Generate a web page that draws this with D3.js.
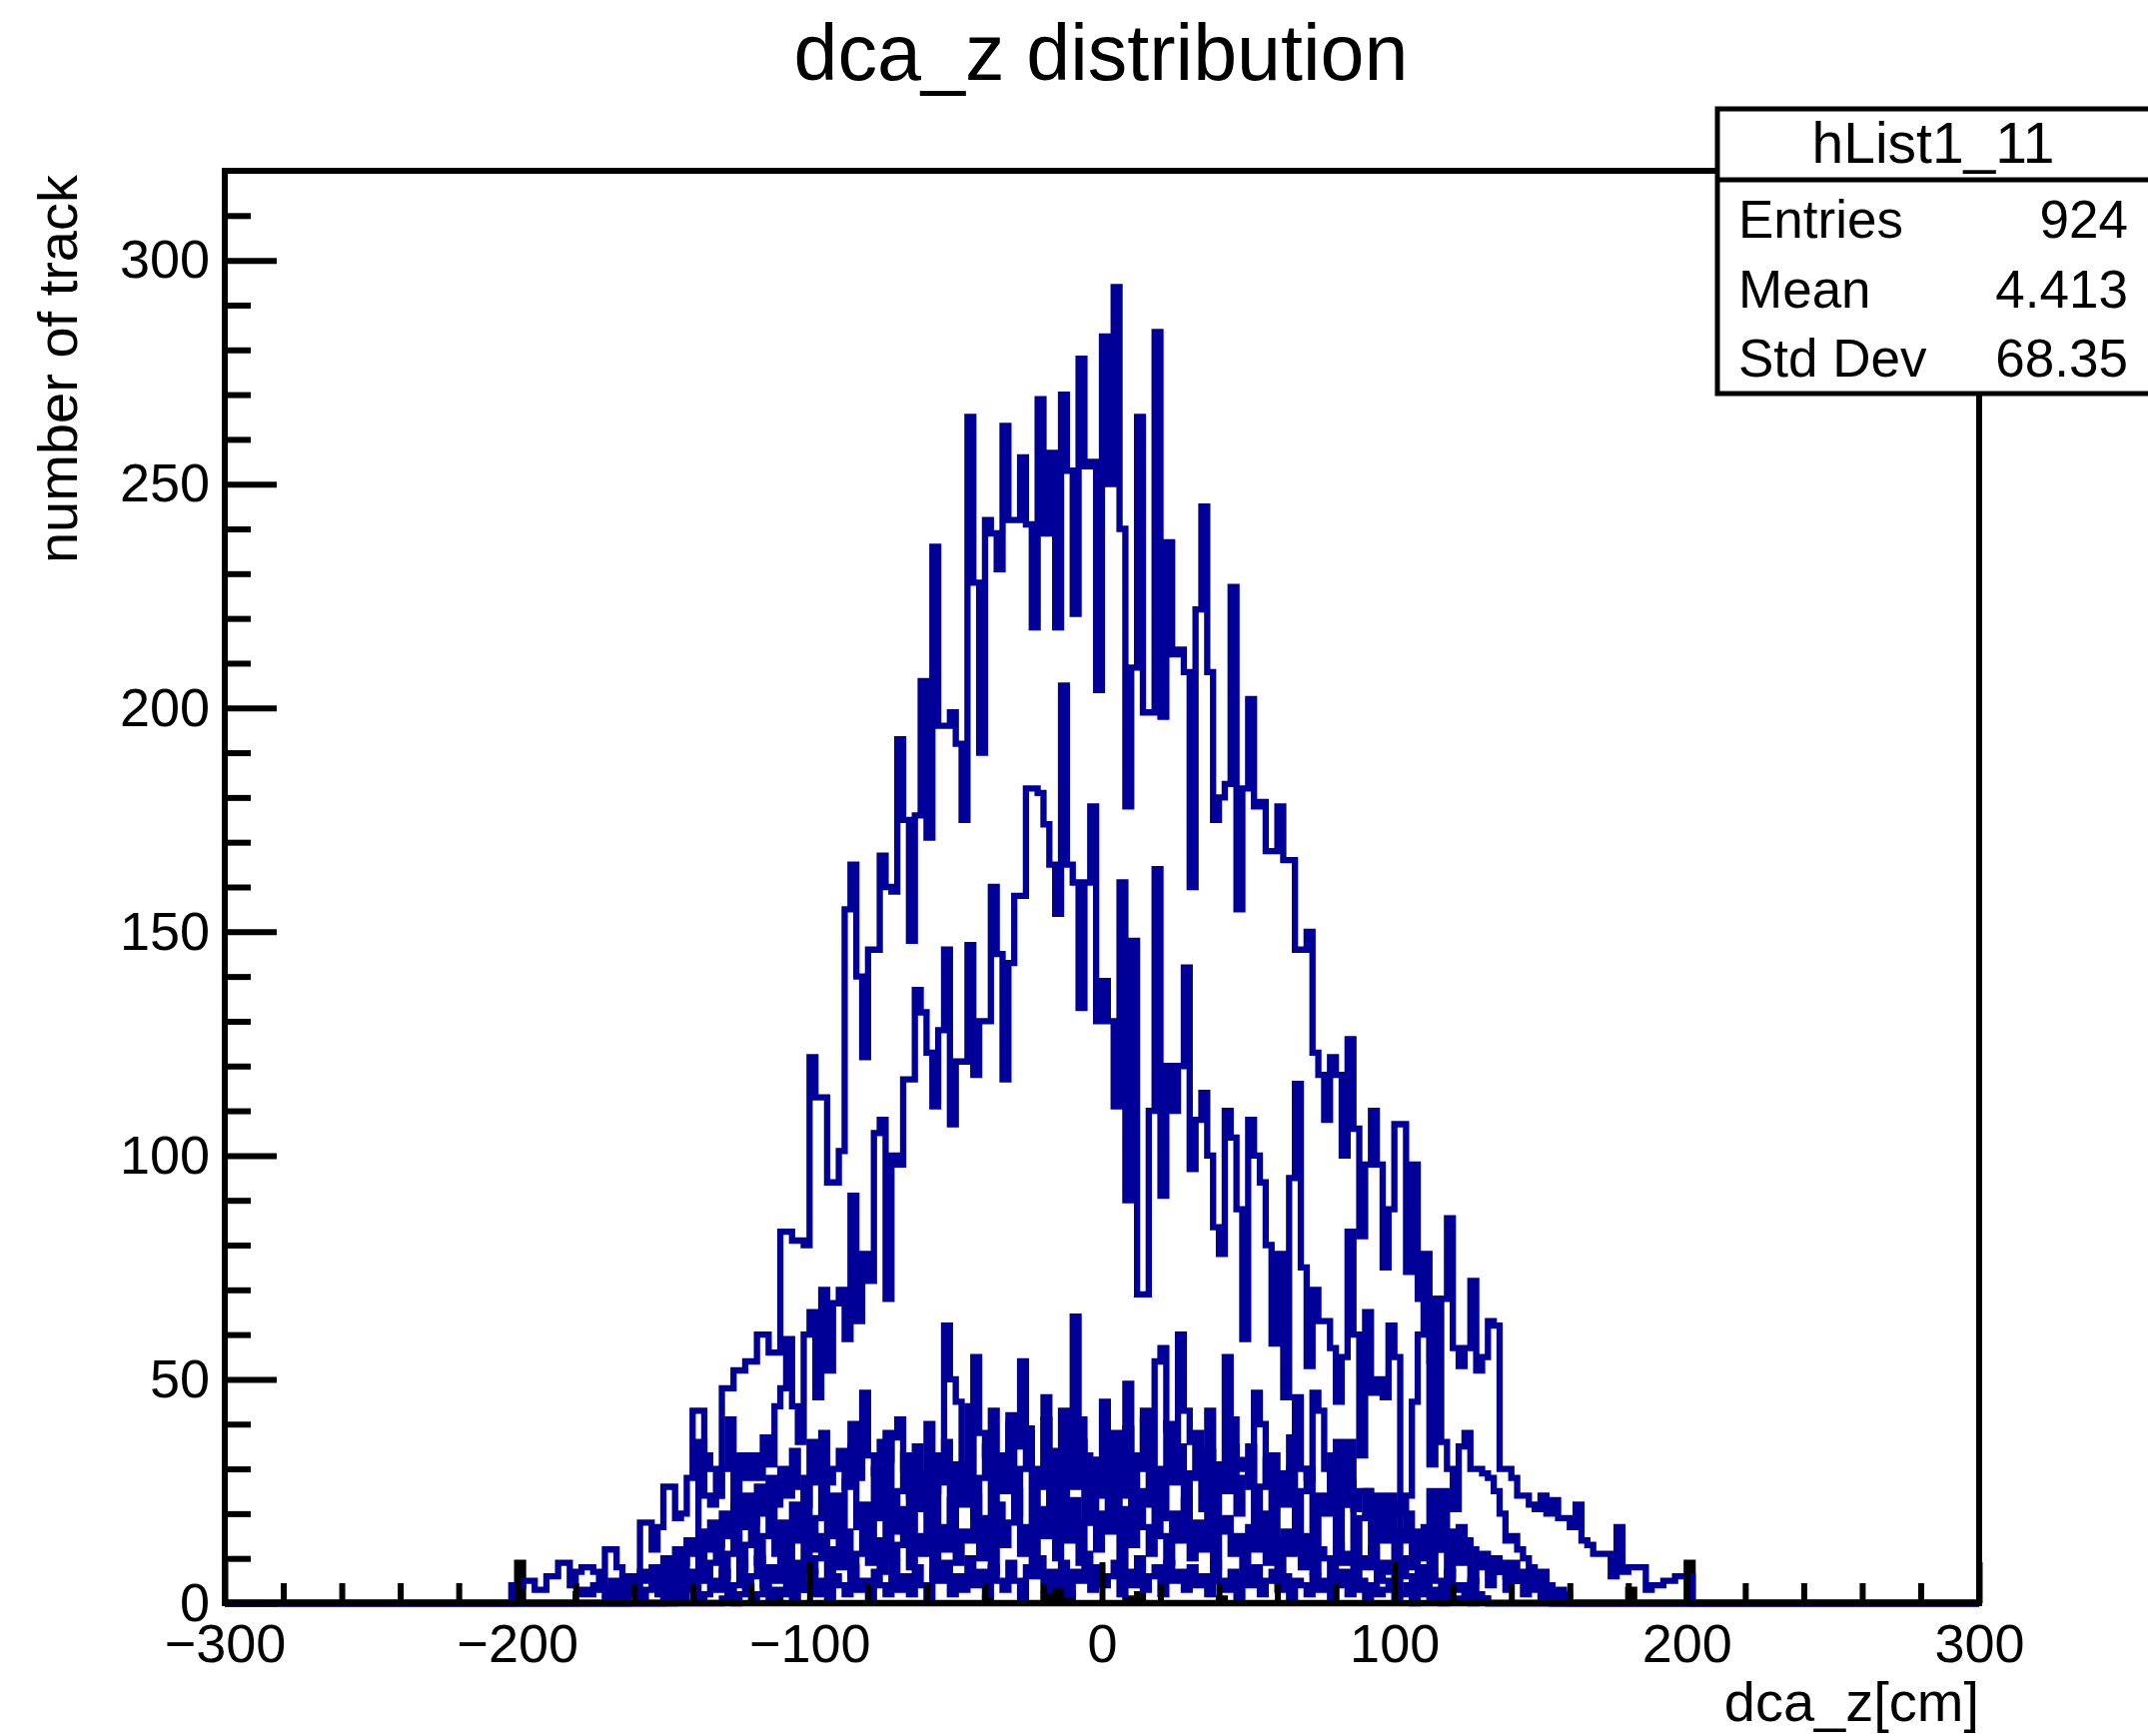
<!DOCTYPE html>
<html>
<head>
<meta charset="utf-8">
<script src="https://cdn.jsdelivr.net/npm/d3@7"></script>
<style>
    body { margin: 0; background: #fff; }
    svg { display: block; font-family: "Liberation Sans", Arial, Helvetica, sans-serif; }
</style>
</head>
<body>
<div id="chart"></div>
<script>
// histogram contents, 2 cm bins, each list starts at the given left edge
var binWidth = 2;

var startA = -202;
var histA = [
    4, 4, 5, 5, 3, 3, 6, 6, 9, 9,
    4, 7, 8, 8, 7, 4, 12, 12, 8, 6,
    5, 6, 18, 18, 12, 17, 26, 26, 19, 20,
    28, 43, 43, 33, 30, 24, 48, 48, 52, 52,
    54, 54, 60, 60, 56, 56, 83, 83, 81, 81,
    80, 122, 113, 113, 94, 94, 101, 155, 165, 140,
    122, 146, 146, 167, 160, 159, 193, 175, 148, 176,
    206, 171, 236, 196, 196, 199, 192, 175, 265, 228,
    190, 242, 239, 231, 263, 242, 242, 256, 241, 218,
    269, 239, 257, 218, 270, 253, 221, 278, 254, 255,
    204, 283, 250, 294, 240, 178, 209, 265, 199, 199,
    284, 198, 237, 212, 213, 208, 160, 222, 245, 208,
    175, 180, 183, 227, 155, 182, 202, 178, 179, 168,
    168, 178, 166, 166, 146, 146, 150, 123, 118, 108,
    122, 118, 100, 126, 106, 82, 98, 110, 98, 75,
    88, 107, 107, 74, 98, 68, 78, 54, 68, 68,
    86, 57, 53, 57, 72, 52, 55, 63, 62, 30,
    30, 28, 24, 24, 22, 21, 24, 20, 23, 19,
    19, 17, 22, 14, 13, 11, 11, 11, 6, 17,
    7, 8, 8, 8, 3, 4, 4, 5, 5, 6,
    6, 6
];

var startB = -150;
var histB = [
    6, 9, 5, 11, 14, 12, 36, 24, 22, 24,
    30, 41, 20, 33, 28, 33, 28, 37, 31, 44,
    48, 59, 44, 36, 60, 65, 46, 70, 52, 67,
    70, 59, 91, 63, 78, 72, 105, 108, 68, 100,
    98, 117, 117, 137, 132, 123, 111, 128, 146, 107,
    121, 121, 147, 118, 130, 130, 160, 145, 117, 143,
    158, 158, 182, 182, 181, 174, 165, 154, 205, 165,
    161, 133, 161, 178, 130, 139, 130, 111, 161, 90,
    148, 69, 69, 110, 164, 91, 120, 110, 120, 142,
    97, 108, 114, 100, 84, 78, 110, 104, 88, 59,
    108, 100, 94, 80, 58, 78, 46, 95, 116, 75,
    53, 70, 63, 63, 57, 45, 55, 83, 60, 33,
    65, 47, 50, 46, 62, 55, 20, 24, 45, 60,
    68, 31, 68, 36, 30, 21, 35, 38, 30, 30,
    29, 28, 25, 20, 14, 15, 12, 10, 8, 6,
    7, 4
];

var startC = -180;
var histC = [
    2, 3, 2, 4, 3, 2, 5, 4, 6, 3,
    5, 7, 5, 8, 6, 10, 7, 12, 9, 14,
    11, 16, 12, 18, 13, 20, 15, 22, 17, 24,
    18, 26, 20, 28, 22, 30, 24, 34, 26, 22,
    36, 27, 38, 27, 30, 34, 26, 40, 28, 47,
    33, 29, 36, 32, 37, 41, 30, 24, 35, 24,
    28, 25, 33, 62, 50, 45, 28, 26, 55, 38,
    33, 43, 29, 26, 40, 35, 54, 39, 30, 26,
    41, 31, 27, 43, 28, 64, 36, 33, 32, 24,
    32, 35, 38, 27, 49, 32, 30, 41, 30, 54,
    57, 39, 33, 60, 43, 36, 28, 28, 43, 30,
    27, 55, 35, 30, 32, 26, 47, 40, 27, 33,
    27, 25, 30, 46, 30, 28, 47, 43, 30, 26,
    36, 22, 36, 21, 25, 25, 19, 24, 17, 24,
    20, 14, 16, 14, 16, 10, 25, 12, 25, 16,
    10, 17, 14, 12, 9, 11, 8, 10, 7, 6,
    9, 5, 7, 4, 6, 3, 4, 2, 3, 2
];

var startD = -170;
var histD = [
    1, 0, 3, 0, 2, 4, 1, 3, 6, 2,
    8, 3, 5, 10, 4, 7, 12, 5, 9, 14,
    6, 11, 17, 8, 13, 20, 9, 15, 24, 11,
    18, 10, 22, 14, 28, 12, 19, 31, 15, 24,
    13, 27, 35, 17, 22, 12, 30, 19, 38, 16,
    25, 33, 14, 29, 21, 40, 18, 27, 36, 15,
    31, 22, 44, 19, 28, 35, 16, 33, 25, 42,
    20, 30, 38, 17, 27, 46, 22, 34, 19, 37,
    26, 41, 18, 32, 28, 45, 21, 36, 24, 39,
    17, 33, 43, 22, 30, 19, 40, 27, 35, 18,
    29, 38, 21, 34, 16, 31, 25, 41, 20, 28,
    35, 17, 26, 32, 15, 29, 22, 37, 14, 25,
    30, 13, 24, 20, 33, 12, 22, 27, 11, 19,
    25, 10, 18, 14, 22, 9, 16, 20, 8, 13,
    17, 7, 12, 15, 6, 11, 9, 14, 5, 8,
    10, 4, 7, 9, 3, 6, 5, 2, 4, 3,
    1, 2, 0, 1
];

var startE = -150;
var histE = [
    2, 0, 4, 1, 3, 6, 1, 2, 5, 3,
    7, 2, 4, 9, 3, 6, 10, 4, 8, 5,
    11, 6, 9, 3, 13, 7, 10, 15, 5, 12,
    8, 16, 6, 11, 18, 9, 14, 7, 19, 10,
    13, 21, 8, 15, 11, 20, 6, 17, 12, 23,
    9, 16, 14, 24, 10, 19, 7, 22, 13, 18,
    25, 11, 17, 8, 21, 15, 26, 10, 19, 14,
    23, 9, 18, 27, 12, 20, 16, 24, 8, 21,
    13, 25, 17, 11, 22, 15, 9, 20, 14, 23,
    10, 18, 12, 21, 8, 16, 19, 11, 15, 7,
    17, 12, 20, 9, 14, 6, 16, 11, 13, 8,
    15, 7, 12, 10, 5, 13, 9, 11, 4, 10,
    8, 12, 5, 9, 7, 3, 10, 6, 4, 8,
    3, 6, 5, 2, 7, 3, 4, 1, 5, 2,
    1
];

var startF = -130;
var histF = [
    1, 3, 0, 2, 4, 1, 2, 5, 1, 3,
    2, 6, 1, 4, 3, 7, 2, 5, 1, 6,
    4, 2, 8, 3, 5, 1, 7, 4, 2, 9,
    3, 6, 2, 8, 4, 1, 7, 5, 9, 2,
    6, 3, 10, 4, 7, 2, 8, 5, 3, 9,
    5, 1, 8, 6, 10, 3, 7, 4, 9, 2,
    7, 5, 11, 3, 8, 4, 6, 9, 2, 7,
    4, 10, 3, 6, 8, 2, 9, 5, 7, 3,
    8, 4, 6, 2, 9, 5, 3, 7, 1, 6,
    4, 8, 2, 5, 7, 3, 6, 1, 5, 4,
    2, 6, 3, 5, 1, 4, 7, 2, 3, 5,
    1, 4, 2, 3, 5, 1, 2, 4, 0, 3,
    2, 1, 3, 0, 2, 1, 1, 2, 0, 1,
    1
];

// the black histogram only has a few filled bins
var blackEdges = [-200, -112, -40, -20, -16, -12, 8, 12, 40, 180, 200];
var blackValues = [9, 1, 1, 2, 3, 2, 1, 2, 1, 3, 9];

var xTicks = [-300, -200, -100, 0, 100, 200, 300];
var yTicks = [0, 50, 100, 150, 200, 250, 300];

var statsRows = [["Entries", "924"], ["Mean", "4.413"], ["Std Dev", "68.35"]];

var HistChart = function() {
    const WIDTH = 2150;
    const HEIGHT = 1738;
    var frame = {left: 225, right: 1981, top: 171, bottom: 1605};
    var x, y, svg;

    function histPoints(start, values) {
	var pts = [[-300, 0]];
	values.forEach(function(v, i) {
	    pts.push([start + i * binWidth, v]);
	});
	pts.push([start + values.length * binWidth, 0]);
	pts.push([300, 0]);
	return pts;
    }

    function sparsePoints(edges, values) {
	var pts = [[-300, 0]];
	edges.forEach(function(e, i) {
	    pts.push([e, values[i]]);
	    pts.push([e + binWidth, 0]);
	});
	pts.push([300, 0]);
	return pts;
    }

    function drawAxes() {
	var xMinor = d3.range(-300, 301, 20).filter(function(d) { return d % 100 !== 0; });
	var yMinor = d3.range(0, 320, 10).filter(function(d) { return d % 50 !== 0; });

	svg.append("g")
	    .attr("transform", "translate(0," + frame.bottom + ")")
	    .call(d3.axisBottom(x).tickValues(xTicks)
		    .tickSize(-41).tickPadding(21)
		    .tickFormat(d3.format("d")));
	svg.append("g")
	    .attr("transform", "translate(0," + frame.bottom + ")")
	    .call(d3.axisBottom(x).tickValues(xMinor).tickSize(-20).tickFormat(""));

	var gy = svg.append("g")
		.attr("transform", "translate(" + frame.left + ",0)")
		.call(d3.axisLeft(y).tickValues(yTicks)
			.tickSize(-52).tickPadding(15)
			.tickFormat(d3.format("d")));
	svg.append("g")
	    .attr("transform", "translate(" + frame.left + ",0)")
	    .call(d3.axisLeft(y).tickValues(yMinor).tickSize(-26).tickFormat(""));

	svg.selectAll(".domain").remove();
	svg.selectAll(".tick line")
	    .attr("stroke", "#000")
	    .attr("stroke-width", 6);
	svg.selectAll(".tick text")
	    .attr("fill", "#000")
	    .attr("font-size", 54)
	    .attr("font-family", "Liberation Sans, Arial, Helvetica, sans-serif");
	gy.selectAll(".tick text").attr("dy", "0.32em");
    }

    function createChart(divId) {
	x = d3.scaleLinear().domain([-300, 300]).range([frame.left, frame.right]);
	y = d3.scaleLinear().domain([0, 320]).range([frame.bottom, frame.top]);

	svg = d3.select(divId).append("svg")
		.attr("width", WIDTH)
		.attr("height", HEIGHT);
	svg.append("rect")
	    .attr("width", WIDTH)
	    .attr("height", HEIGHT)
	    .attr("fill", "#fff");

	var line = d3.line()
		.x(function(d) { return x(d[0]); })
		.y(function(d) { return y(d[1]); })
		.curve(d3.curveStepAfter);

	var hists = svg.append("g")
		.attr("fill", "none")
		.attr("stroke-width", 6.3)
		.attr("stroke-linejoin", "miter");

	hists.append("path")
	    .attr("d", line(sparsePoints(blackEdges, blackValues)))
	    .attr("stroke", "#000");

	[[startF, histF], [startE, histE], [startD, histD], [startC, histC],
	 [startB, histB], [startA, histA]].forEach(function(h) {
	    hists.append("path")
		.attr("d", line(histPoints(h[0], h[1])))
		.attr("stroke", "#000099");
	});

	drawAxes();

	svg.append("rect")
	    .attr("x", frame.left)
	    .attr("y", frame.top)
	    .attr("width", frame.right - frame.left)
	    .attr("height", frame.bottom - frame.top)
	    .attr("fill", "none")
	    .attr("stroke", "#000")
	    .attr("stroke-width", 6);

	// titles
	svg.append("text")
	    .attr("x", 1102)
	    .attr("y", 80)
	    .attr("text-anchor", "middle")
	    .attr("font-size", 79)
	    .text("dca_z distribution");
	svg.append("text")
	    .attr("x", frame.right)
	    .attr("y", 1723)
	    .attr("text-anchor", "end")
	    .attr("font-size", 56)
	    .text("dca_z[cm]");
	svg.append("text")
	    .attr("transform", "translate(77," + (frame.top + 4) + ") rotate(-90)")
	    .attr("text-anchor", "end")
	    .attr("font-size", 56)
	    .text("number of track");

	// stats box
	var box = svg.append("g");
	box.append("rect")
	    .attr("x", 1719)
	    .attr("y", 109)
	    .attr("width", 470)
	    .attr("height", 285)
	    .attr("fill", "#fff")
	    .attr("stroke", "#000")
	    .attr("stroke-width", 5);
	box.append("line")
	    .attr("x1", 1719).attr("x2", 2150)
	    .attr("y1", 180).attr("y2", 180)
	    .attr("stroke", "#000")
	    .attr("stroke-width", 5);
	box.append("text")
	    .attr("x", 1935)
	    .attr("y", 163)
	    .attr("text-anchor", "middle")
	    .attr("font-size", 57)
	    .text("hList1_11");
	statsRows.forEach(function(r, i) {
	    box.append("text")
		.attr("x", 1740)
		.attr("y", 238 + i * 69.5)
		.attr("font-size", 53)
		.text(r[0]);
	    box.append("text")
		.attr("x", 2130)
		.attr("y", 238 + i * 69.5)
		.attr("text-anchor", "end")
		.attr("font-size", 53)
		.text(r[1]);
	});
    }

    return {
	createChart: createChart
    };
};

var chart = HistChart();
chart.createChart("#chart");
</script>
</body>
</html>
